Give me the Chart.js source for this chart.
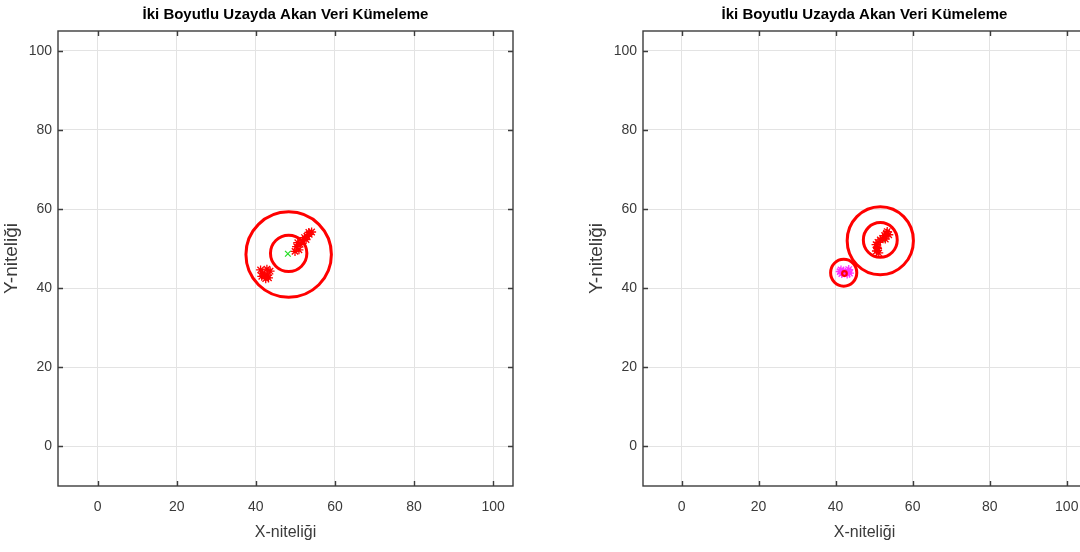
<!DOCTYPE html>
<html>
<head>
<meta charset="utf-8">
<script src="https://cdn.jsdelivr.net/npm/chart.js@4/dist/chart.umd.min.js"></script>
<style>
  html, body { margin: 0; padding: 0; background: #ffffff; overflow: hidden; }
  #wrap { position: relative; width: 1080px; height: 552px; overflow: hidden; }
  .pane { position: absolute; top: 0; height: 552px; }
  #paneA { left: 0; width: 571px; }
  #paneB { left: 585px; width: 559px; }
</style>
</head>
<body>
<div id="wrap">
  <div class="pane" id="paneA"><canvas id="chartA"></canvas></div>
  <div class="pane" id="paneB"><canvas id="chartB"></canvas></div>
</div>
<script>
// Texts and axis ticks
const chartTitle = 'İki Boyutlu Uzayda Akan Veri Kümeleme';
const xAxisLabel = 'X-niteliği';
const yAxisLabel = 'Y-niteliği';
const axisMin = -10;
const axisMax = 105;
const tickValues = [0, 20, 40, 60, 80, 100];

// Left panel: streamed points, cluster centre and cluster boundaries
const leftPointsX = [41.2, 41.7, 42.2, 42.5, 43.0, 43.6, 42.8, 41.5, 43.2,
                     49.9, 50.3, 50.9, 51.2, 50.6, 51.8, 52.3, 52.9, 53.5, 54.1, 52.7, 53.4];
const leftPointsY = [44.6, 43.8, 43.1, 42.4, 43.3, 44.3, 44.8, 43.0, 42.6,
                     49.3, 50.5, 49.7, 51.1, 51.5, 52.0, 52.8, 53.1, 53.6, 54.2, 52.3, 54.1];
const leftCentreX = [48.1];
const leftCentreY = [48.7];
const leftCircleX = [48.3, 48.3];
const leftCircleY = [48.5, 48.8];
const leftCircleR = [10.8, 4.6];

// Right panel: two clusters
const rightPointsX = [50.6, 50.8, 50.5, 51.0, 50.9, 51.6, 52.2, 52.7, 53.2, 53.8, 53.4, 52.9, 51.2];
const rightPointsY = [49.4, 50.3, 51.0, 51.6, 50.0, 52.2, 52.6, 53.3, 53.9, 53.5, 54.3, 52.4, 48.9];
const rightSmallX = [41.2, 41.6, 41.4, 43.2, 43.6, 43.4, 42.0, 43.0];
const rightSmallY = [44.2, 43.7, 44.6, 44.3, 43.8, 44.7, 44.0, 43.6];
const rightCentreX = [52.2];
const rightCentreY = [52.3];
const rightCircleX = [51.6, 51.6, 42.1, 42.3];
const rightCircleY = [52.0, 52.2, 43.9, 43.7];
const rightCircleR = [8.6, 4.4, 3.4, 0.6];

const FONT = "'Liberation Sans', Arial, sans-serif";
const AXIS_COLOR = '#3c3c3c';
const GRID_COLOR = '#e3e3e3';
const TEXT_COLOR = '#3a3a3a';

function pairs(xs, ys) {
  return xs.map((x, i) => ({ x: x, y: ys[i] }));
}

// Cluster boundaries, drawn in data units through the chart scales
const clusterRings = {
  id: 'clusterRings',
  afterDatasetsDraw(chart, args, opts) {
    const xs = chart.scales.x, ys = chart.scales.y;
    const ctx = chart.ctx;
    const area = chart.chartArea;
    ctx.save();
    ctx.beginPath();
    ctx.rect(area.left, area.top, area.right - area.left, area.bottom - area.top);
    ctx.clip();
    ctx.strokeStyle = opts.color;
    opts.cx.forEach((cx, i) => {
      const cy = opts.cy[i], r = opts.r[i];
      const px = xs.getPixelForValue(cx);
      const py = ys.getPixelForValue(cy);
      const rx = Math.abs(xs.getPixelForValue(cx + r) - px);
      const ry = Math.abs(ys.getPixelForValue(cy + r) - py);
      ctx.lineWidth = r < 1 ? 2.2 : 3;
      ctx.beginPath();
      ctx.ellipse(px, py, rx, ry, 0, 0, Math.PI * 2);
      ctx.stroke();
    });
    ctx.restore();
  }
};

// Box around the plot with short inward tick marks on all four sides
const boxFrame = {
  id: 'boxFrame',
  beforeDatasetsDraw(chart) {
    const xs = chart.scales.x, ys = chart.scales.y;
    const a = chart.chartArea;
    const ctx = chart.ctx;
    const len = 5;
    ctx.save();
    ctx.strokeStyle = AXIS_COLOR;
    ctx.lineWidth = 1.4;
    ctx.strokeRect(a.left, a.top, a.right - a.left, a.bottom - a.top);
    ctx.beginPath();
    tickValues.forEach(v => {
      const px = Math.round(xs.getPixelForValue(v)) + 0.5;
      ctx.moveTo(px, a.bottom); ctx.lineTo(px, a.bottom - len);
      ctx.moveTo(px, a.top); ctx.lineTo(px, a.top + len);
      const py = Math.round(ys.getPixelForValue(v)) + 0.5;
      ctx.moveTo(a.left, py); ctx.lineTo(a.left + len, py);
      ctx.moveTo(a.right, py); ctx.lineTo(a.right - len, py);
    });
    ctx.stroke();
    ctx.restore();
  }
};

function setTicks(scale) {
  scale.ticks = tickValues.map(v => ({ value: v }));
}

function makeChart(canvasId, datasets, rings) {
  return new Chart(document.getElementById(canvasId), {
    type: 'scatter',
    data: { datasets: datasets },
    plugins: [boxFrame, clusterRings],
    options: {
      responsive: true,
      maintainAspectRatio: false,
      animation: false,
      devicePixelRatio: 1,
      layout: { padding: 0 },
      plugins: {
        legend: { display: false },
        tooltip: { enabled: false },
        title: {
          display: true,
          text: chartTitle,
          color: '#000000',
          font: { family: FONT, size: 15, weight: 'bold', lineHeight: 1.2 },
          padding: { top: 6, bottom: 7 }
        },
        clusterRings: Object.assign({ color: '#ff0000' }, rings)
      },
      scales: {
        x: {
          type: 'linear',
          position: 'bottom',
          min: axisMin,
          max: axisMax,
          afterBuildTicks: setTicks,
          afterFit: s => { s.height = 66; },
          grid: { color: GRID_COLOR, lineWidth: 1, drawTicks: false },
          border: { display: false },
          ticks: { color: TEXT_COLOR, padding: 13, font: { family: FONT, size: 14 } },
          title: {
            display: true, text: xAxisLabel, color: TEXT_COLOR,
            font: { family: FONT, size: 16 }, padding: { top: 0, bottom: 10 }
          }
        },
        y: {
          type: 'linear',
          position: 'left',
          min: axisMin,
          max: axisMax,
          afterBuildTicks: setTicks,
          afterFit: s => { s.width = 58; },
          grid: { color: GRID_COLOR, lineWidth: 1, drawTicks: false },
          border: { display: false },
          ticks: { color: TEXT_COLOR, padding: 6, font: { family: FONT, size: 14 } },
          title: {
            display: true, text: yAxisLabel, color: TEXT_COLOR,
            font: { family: FONT, size: 19 }, padding: { top: 0, bottom: 0 }
          }
        },
        yRight: {
          type: 'linear',
          position: 'right',
          min: axisMin,
          max: axisMax,
          afterFit: s => { s.width = 58; },
          grid: { display: false, drawTicks: false },
          border: { display: false },
          ticks: { display: false }
        }
      }
    }
  });
}

makeChart('chartA', [
  {
    label: 'centre', data: pairs(leftCentreX, leftCentreY),
    pointStyle: 'crossRot', pointRadius: 4, borderColor: '#22dd22', borderWidth: 1.2
  },
  {
    label: 'points', data: pairs(leftPointsX, leftPointsY),
    pointStyle: 'star', pointRadius: 4.5, borderColor: '#ff0000', borderWidth: 1.3
  }
], { cx: leftCircleX, cy: leftCircleY, r: leftCircleR });

makeChart('chartB', [
  {
    label: 'points', data: pairs(rightPointsX, rightPointsY),
    pointStyle: 'star', pointRadius: 4.5, borderColor: '#ff0000', borderWidth: 1.3
  },
  {
    label: 'centre', data: pairs(rightCentreX, rightCentreY),
    pointStyle: 'crossRot', pointRadius: 4, borderColor: '#22dd22', borderWidth: 1.2
  },
  {
    label: 'small', data: pairs(rightSmallX, rightSmallY),
    pointStyle: 'star', pointRadius: 4.5, borderColor: '#ff33ff', borderWidth: 1.3
  }
], { cx: rightCircleX, cy: rightCircleY, r: rightCircleR });
</script>
</body>
</html>
